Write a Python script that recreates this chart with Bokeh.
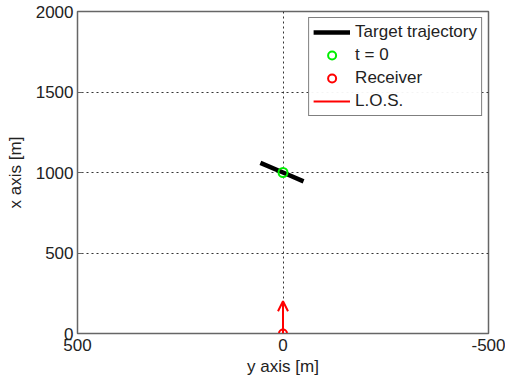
from bokeh.plotting import figure
from bokeh.models import Range1d, Arrow, OpenHead, FixedTicker, Legend, LegendItem
from bokeh.embed import file_html
from bokeh.resources import INLINE

# data (y axis is horizontal, x axis vertical, as in the reference)
traj_y = [55, 0, -50]
traj_x = [1060, 1000, 945]
t0_y = [0]
t0_x = [1000]
rx_y = [0]
rx_x = [0]
los_y = [0, 0]
los_x = [0, 200]
xticks = [500, 0, -500]
xtick_labels = {500: "500", 0: "0", -500: "-500"}
yticks = [0, 500, 1000, 1500, 2000]

FONT = "Liberation Sans"
FS = "17px"

p = figure(width=505, height=378, output_backend="svg", toolbar_location=None,
           x_range=Range1d(500, -500), y_range=Range1d(0, 2000),
           min_border_left=77, min_border_right=17, min_border_top=11, min_border_bottom=43)

p.xaxis.ticker = FixedTicker(ticks=xticks)
p.xaxis.major_label_overrides = xtick_labels
p.yaxis.ticker = FixedTicker(ticks=yticks)
p.xaxis.axis_label = "y axis [m]"
p.yaxis.axis_label = "x axis [m]"
for ax in (p.xaxis, p.yaxis):
    ax.axis_label_text_font = FONT
    ax.axis_label_text_font_style = "normal"
    ax.axis_label_text_font_size = FS
    ax.major_label_text_font = FONT
    ax.major_label_text_font_size = FS
    ax.major_label_text_color = "#222222"
    ax.axis_label_text_color = "#222222"
    ax.major_tick_in = 5
    ax.major_tick_out = 0
    ax.minor_tick_in = 0
    ax.minor_tick_out = 0
    ax.axis_line_color = "#666666"
    ax.major_tick_line_color = "#666666"
p.xaxis.axis_label_standoff = 3
p.yaxis.axis_label_standoff = 8
p.xaxis.major_label_standoff = 5
p.yaxis.major_label_standoff = 4

p.outline_line_color = "#666666"
p.outline_line_width = 1.5
for g in (p.xgrid, p.ygrid):
    g.grid_line_color = "#333333"
    g.grid_line_dash = "2 3"
    g.grid_line_width = 1

r_traj = p.line(traj_y, traj_x, line_color="black", line_width=4.5)
r_t0 = p.scatter(t0_y, t0_x, marker="circle", size=9, fill_color=None,
                 line_color="#00ee00", line_width=2)
r_los = p.line(los_y, los_x, line_color="red", line_width=2)
p.add_layout(Arrow(end=OpenHead(size=10, line_color="red", line_width=2),
                   x_start=los_y[0], y_start=los_x[0], x_end=los_y[1], y_end=los_x[1],
                   line_color="red", line_width=2))
r_rx = p.scatter(rx_y, rx_x, marker="circle", size=8, fill_color=None,
                 line_color="red", line_width=2)

legend = Legend(items=[
    LegendItem(label="Target trajectory", renderers=[r_traj]),
    LegendItem(label="t = 0", renderers=[r_t0]),
    LegendItem(label="Receiver", renderers=[r_rx]),
    LegendItem(label="L.O.S.", renderers=[r_los]),
], location="top_right")
legend.label_text_font = FONT
legend.label_text_font_size = FS
legend.label_text_color = "#222222"
legend.border_line_color = "black"
legend.border_line_width = 1
legend.glyph_width = 37
legend.glyph_height = 20
legend.label_height = 20
legend.spacing = 3
legend.padding = 4
legend.margin = 6
legend.label_standoff = 5
p.add_layout(legend)

open("out.html", "w").write(file_html(p, INLINE))
